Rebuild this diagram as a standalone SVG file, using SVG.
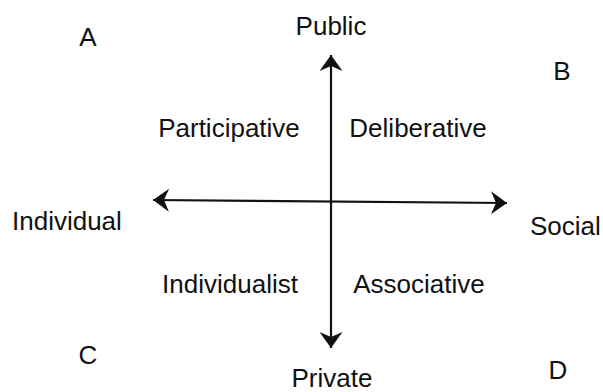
<svg xmlns="http://www.w3.org/2000/svg" width="603" height="392" viewBox="0 0 603 392">
  <style>
    .lbl { font-family: "Liberation Sans", Arial, sans-serif; font-size: 26px; fill: #111; }
    .mid { text-anchor: middle; }
    .axis { stroke: #111; stroke-width: 2.2; fill: none; }
  </style>
  <defs>
    <marker id="head" markerUnits="userSpaceOnUse" markerWidth="20" markerHeight="26" viewBox="-17 -13 18 26" refX="0" refY="0" orient="auto-start-reverse">
      <path d="M0,0 L-16,-11.5 L-11,0 L-16,11.5 Z" fill="#111"/>
    </marker>
  </defs>

  <rect width="603" height="392" fill="#fff"/>

  <!-- axes -->
  <g id="connectors">
    <line class="axis" x1="331" y1="348" x2="331" y2="55" marker-start="url(#head)" marker-end="url(#head)"/>
    <line class="axis" x1="153" y1="200" x2="507" y2="203" marker-start="url(#head)" marker-end="url(#head)"/>
  </g>

  <!-- axis ends -->
  <g id="public"><text class="lbl mid" x="331" y="35">Public</text></g>
  <g id="private"><text class="lbl mid" x="332" y="387">Private</text></g>
  <g id="individual"><text class="lbl" x="12" y="230">Individual</text></g>
  <g id="social"><text class="lbl" x="530" y="235">Social</text></g>

  <!-- quadrants -->
  <g id="participative"><text class="lbl mid" x="229" y="137">Participative</text></g>
  <g id="deliberative"><text class="lbl mid" x="418" y="137">Deliberative</text></g>
  <g id="individualist"><text class="lbl mid" x="230" y="293">Individualist</text></g>
  <g id="associative"><text class="lbl mid" x="419" y="293">Associative</text></g>

  <!-- corner letters -->
  <g id="corner-a"><text class="lbl mid" x="88" y="46">A</text></g>
  <g id="corner-b"><text class="lbl mid" x="562" y="80">B</text></g>
  <g id="corner-c"><text class="lbl mid" x="88" y="364">C</text></g>
  <g id="corner-d"><text class="lbl mid" x="558" y="379">D</text></g>
</svg>
